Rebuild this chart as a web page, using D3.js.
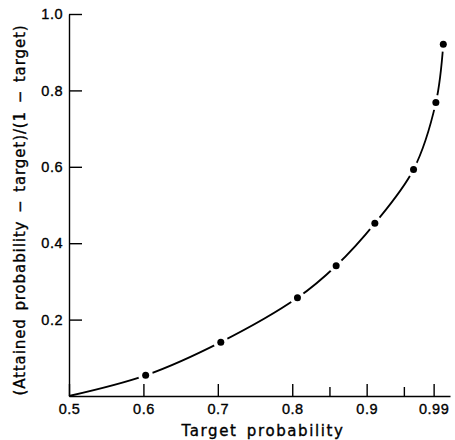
<!DOCTYPE html>
<html lang="en">
<head>
  <meta charset="UTF-8" />
  <title>Target probability</title>
  <style>
    body {
      margin: 0;
      background: #fff;
    }
    svg {
      display: block;
      background: #fff;
      font-family: "DejaVu Sans", sans-serif;
    }
    .axis path, .axis line {
      stroke: #000;
      stroke-width: 1.4;
    }
    .axis text {
      fill: #000;
      stroke: #000;
      stroke-width: 0.35;
      font-size: 14.5px;
      letter-spacing: 0.5px;
    }
    .curve {
      fill: none;
      stroke: #000;
      stroke-width: 1.8;
    }
    .label {
      fill: #000;
      stroke: #000;
      stroke-width: 0.35;
      font-size: 15px;
      letter-spacing: 1.6px;
      word-spacing: 3px;
    }
  </style>
</head>
<body>
  <svg width="455" height="440"></svg>

  <script src="https://d3js.org/d3.v7.min.js"></script>
  <script>
    // values
    const targets = [0.603, 0.704, 0.807, 0.859, 0.911, 0.963, 0.993, 1.003];
    const ratios  = [0.054, 0.141, 0.257, 0.341, 0.452, 0.593, 0.768, 0.921];

    const xMajorTicks = [0.5, 0.6, 0.7, 0.8, 0.9, 0.99];
    const xMinorTicks = [0.85, 0.95];
    const yTicks = [0.2, 0.4, 0.6, 0.8, 1.0];

    const svg = d3.select("svg");

    const x = d3.scaleLinear().domain([0.5, 1.012]).range([69, 450]);
    const y = d3.scaleLinear().domain([0, 1]).range([396, 14]);

    // x axis, ticks pointing up into the plot
    svg.append("g")
      .attr("class", "axis")
      .attr("transform", `translate(0,${y(0)})`)
      .call(d3.axisBottom(x)
        .tickValues(xMajorTicks)
        .tickSizeInner(-12)
        .tickSizeOuter(0)
        .tickPadding(8)
        .tickFormat(d => d === 0.99 ? "0.99" : d3.format(".1f")(d)));

    svg.append("g")
      .attr("class", "axis")
      .attr("transform", `translate(0,${y(0)})`)
      .call(d3.axisBottom(x)
        .tickValues(xMinorTicks)
        .tickSizeInner(-9)
        .tickSizeOuter(0)
        .tickFormat(""))
      .select(".domain").remove();

    // y axis
    svg.append("g")
      .attr("class", "axis")
      .attr("transform", `translate(${x(0.5)},0)`)
      .call(d3.axisLeft(y)
        .tickValues(yTicks)
        .tickSizeInner(-13)
        .tickSizeOuter(0)
        .tickPadding(6)
        .tickFormat(d3.format(".1f")));

    // curve from the origin through the points
    const pts = [[0.5, 0]].concat(targets.map((t, i) => [t, ratios[i]]));

    const line = d3.line()
      .x(d => x(d[0]))
      .y(d => y(d[1]))
      .curve(d3.curveCatmullRom.alpha(0.5));

    svg.append("path")
      .attr("class", "curve")
      .attr("d", line(pts));

    // gaps in the curve round each point
    svg.selectAll(".gap")
      .data(targets)
      .enter()
      .append("circle")
      .attr("class", "gap")
      .attr("cx", d => x(d))
      .attr("cy", (d, i) => y(ratios[i]))
      .attr("r", 7.5)
      .attr("fill", "#fff");

    svg.selectAll(".dot")
      .data(targets)
      .enter()
      .append("circle")
      .attr("class", "dot")
      .attr("cx", d => x(d))
      .attr("cy", (d, i) => y(ratios[i]))
      .attr("r", 3.5)
      .attr("fill", "#000");

    svg.append("text")
      .attr("class", "label")
      .attr("x", 263)
      .attr("y", 436)
      .attr("text-anchor", "middle")
      .text("Target probability");

    svg.append("text")
      .attr("class", "label")
      .attr("transform", "translate(25,210) rotate(-90)")
      .attr("text-anchor", "middle")
      .style("letter-spacing", "0.9px")
      .style("word-spacing", "2px")
      .text("(Attained probability \u2212 target)/(1 \u2212 target)");
  </script>
</body>
</html>
